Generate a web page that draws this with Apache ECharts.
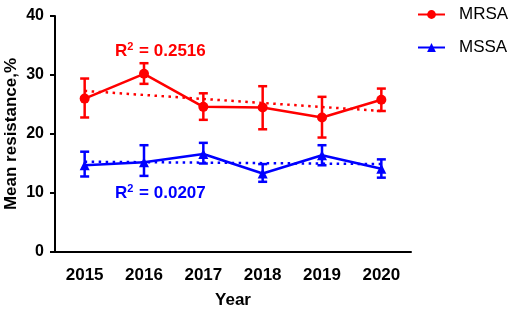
<!DOCTYPE html>
<html>
<head>
<meta charset="utf-8">
<script src="https://cdn.jsdelivr.net/npm/echarts@6/dist/echarts.min.js"></script>
<style>
  html, body { margin: 0; padding: 0; background: #fff; }
  #main { width: 510px; height: 309px; }
</style>
</head>
<body>
<div id="main"></div>
<script>
// data
const years = ['2015', '2016', '2017', '2018', '2019', '2020'];
const yTicks = [0, 10, 20, 30, 40];

const mrsaMean = [26.0, 30.2, 24.6, 24.5, 22.8, 25.8];
const mrsaLow = [22.8, 28.5, 22.4, 20.8, 19.4, 23.9];
const mrsaHigh = [29.4, 32.0, 26.9, 28.1, 26.3, 27.7];
const mrsaTrend = [27.3, null, null, null, null, 23.9];

const mssaMean = [14.7, 15.2, 16.6, 13.3, 16.4, 14.1];
const mssaLow = [12.8, 12.9, 15.0, 11.9, 14.7, 12.6];
const mssaHigh = [17.0, 18.1, 18.5, 14.9, 18.1, 15.7];
const mssaTrend = [15.3, null, null, null, null, 14.9];

const RED = '#ff0000';
const BLUE = '#0000ff';
const FONT = 'Liberation Sans, Arial, sans-serif';

// vertical error bar with caps
const errorBars = (name, low, high, color) => ({
    type: 'custom',
    name: name,
    z: 1,
    encode: { x: 0, y: [1, 2] },
    data: years.map((y, i) => [i, low[i], high[i]]),
    renderItem: (params, api) => {
        const i = api.value(0);
        const top = api.coord([i, api.value(2)]);
        const bot = api.coord([i, api.value(1)]);
        const half = 4.5;
        const style = { stroke: color, lineWidth: 2.5 };
        return {
            type: 'group',
            children: [
                { type: 'line', shape: { x1: top[0], y1: top[1], x2: bot[0], y2: bot[1] }, style: style },
                { type: 'line', shape: { x1: top[0] - half, y1: top[1], x2: top[0] + half, y2: top[1] }, style: style },
                { type: 'line', shape: { x1: bot[0] - half, y1: bot[1], x2: bot[0] + half, y2: bot[1] }, style: style }
            ]
        };
    }
});

const trendLine = (name, data, color) => ({
    type: 'line',
    name: name,
    data: data,
    connectNulls: true,
    symbol: 'none',
    z: 0,
    lineStyle: { color: color, width: 2.5, type: [2.5, 4.5] }
});

const chart = echarts.init(document.getElementById('main'));
const option = {
    animation: false,
    grid: { left: 55, right: 99, top: 16, bottom: 57, outerBoundsMode: 'none' },
    legend: {
        data: ['MRSA', 'MSSA'],
        orient: 'vertical',
        left: 412,
        top: 1,
        itemWidth: 27,
        itemHeight: 11,
        itemGap: 16,
        textStyle: { fontSize: 17, color: '#000', fontFamily: FONT, padding: [0, 0, 0, 9] }
    },
    xAxis: {
        type: 'category',
        data: years,
        name: 'Year',
        nameLocation: 'middle',
        nameGap: 40,
        nameMoveOverlap: false,
        nameTextStyle: { fontSize: 17, fontWeight: 'bold', color: '#000', fontFamily: FONT },
        axisLine: { lineStyle: { color: '#000', width: 2 } },
        axisTick: { alignWithLabel: true, length: 5, lineStyle: { color: '#000', width: 2 } },
        axisLabel: { fontSize: 17, fontWeight: 'bold', color: '#000', margin: 15, fontFamily: FONT }
    },
    yAxis: {
        type: 'value',
        min: yTicks[0],
        max: yTicks[yTicks.length - 1],
        interval: 10,
        name: 'Mean resistance,%',
        nameLocation: 'middle',
        nameGap: 35,
        nameMoveOverlap: false,
        nameTextStyle: { fontSize: 17, fontWeight: 'bold', color: '#000', fontFamily: FONT },
        splitLine: { show: false },
        axisLine: { show: true, lineStyle: { color: '#000', width: 2 } },
        axisTick: { show: true, length: 5, lineStyle: { color: '#000', width: 2 } },
        axisLabel: { fontSize: 16, fontWeight: 'bold', color: '#000', margin: 11, fontFamily: FONT }
    },
    series: [
        {
            type: 'line',
            name: 'MRSA',
            data: mrsaMean,
            symbol: 'circle',
            symbolSize: 10,
            z: 3,
            itemStyle: { color: RED },
            lineStyle: { color: RED, width: 2.5 }
        },
        {
            type: 'line',
            name: 'MSSA',
            data: mssaMean,
            symbol: 'triangle',
            symbolSize: 10,
            z: 3,
            itemStyle: { color: BLUE },
            lineStyle: { color: BLUE, width: 2.5 }
        },
        errorBars('MRSA error', mrsaLow, mrsaHigh, RED),
        errorBars('MSSA error', mssaLow, mssaHigh, BLUE),
        trendLine('MRSA trend', mrsaTrend, RED),
        trendLine('MSSA trend', mssaTrend, BLUE)
    ],
    graphic: [
        {
            type: 'text',
            left: 115,
            top: 41,
            style: {
                text: 'R{sup|2} = 0.2516',
                fill: RED,
                font: 'bold 17px ' + FONT,
                rich: { sup: { fontSize: 11, fontWeight: 'bold', fill: RED, padding: [0, 1, 10, 0] } }
            }
        },
        {
            type: 'text',
            left: 115,
            top: 183,
            style: {
                text: 'R{sup|2} = 0.0207',
                fill: BLUE,
                font: 'bold 17px ' + FONT,
                rich: { sup: { fontSize: 11, fontWeight: 'bold', fill: BLUE, padding: [0, 1, 10, 0] } }
            }
        }
    ]
};
chart.setOption(option);
</script>
</body>
</html>
